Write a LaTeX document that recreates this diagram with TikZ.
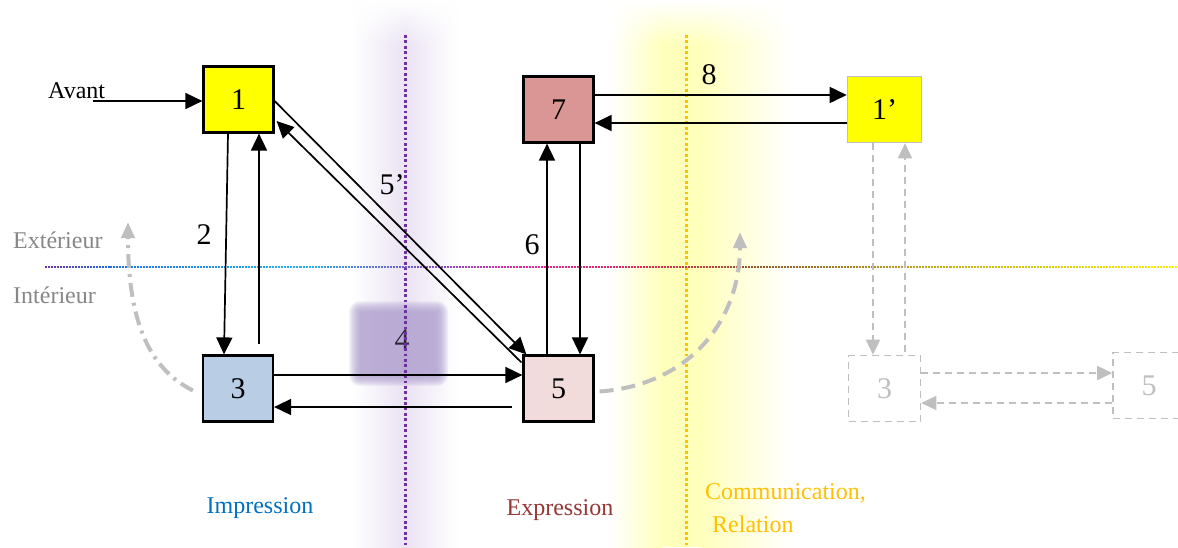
\documentclass[tikz,border=0pt]{standalone}
\usepackage{fontspec}
\setmainfont{Liberation Serif}
\usetikzlibrary{arrows.meta,fadings}

\definecolor{boxyellow}{RGB}{255,255,0}
\definecolor{boxblue}{RGB}{185,205,229}
\definecolor{boxpink}{RGB}{242,220,219}
\definecolor{boxrose}{RGB}{217,150,148}
\definecolor{lgray}{RGB}{191,191,191}
\definecolor{labgray}{RGB}{135,135,135}
\definecolor{impblue}{RGB}{0,112,192}
\definecolor{expred}{RGB}{149,55,53}
\definecolor{comorange}{RGB}{255,192,0}
\definecolor{linepurple}{RGB}{112,48,160}
\definecolor{glowP}{RGB}{234,227,243}
\definecolor{glowY}{RGB}{255,255,188}
\definecolor{sqpurple}{RGB}{172,155,205}
\definecolor{fourgray}{RGB}{45,38,55}
% colour stops of the inside/outside border line
\definecolor{hA}{RGB}{112,48,160}
\definecolor{hB}{RGB}{30,110,230}
\definecolor{hC}{RGB}{40,180,240}
\definecolor{hD}{RGB}{120,80,200}
\definecolor{hE}{RGB}{220,40,160}
\definecolor{hF}{RGB}{220,40,90}
\definecolor{hG}{RGB}{140,90,40}
\definecolor{hH}{RGB}{200,180,20}
\definecolor{hI}{RGB}{255,240,0}

\newcommand\numfont{\fontsize{30}{34}\selectfont}
\newcommand\txtfont{\fontsize{24}{28}\selectfont}

\begin{document}
\begin{tikzpicture}[x=1pt,y=-1pt,
  box/.style={draw=black, line width=2.2pt, minimum width=70pt, minimum height=66pt,
              inner sep=0pt, font=\numfont},
  gbox/.style={draw=lgray, line width=1.6pt, dash pattern=on 7pt off 5pt,
               minimum width=72pt, minimum height=66pt, inner sep=0pt,
               text=lgray, font=\numfont},
  arr/.style={line width=1.7pt, -{Triangle[length=17pt,width=16pt]}},
  garr/.style={draw=lgray, line width=1.6pt, dash pattern=on 7pt off 5pt,
               -{Triangle[length=15pt,width=14pt,fill=lgray]}},
  gcurve/.style={draw=lgray, line width=4pt,
                 -{Triangle[length=16pt,width=13pt,fill=lgray]}},
  num/.style={font=\numfont, inner sep=0pt},
  lab/.style={font=\txtfont, inner sep=0pt},
  vdots/.style={line width=3pt, dash pattern=on 2.8pt off 2.6pt}
]
\useasboundingbox[fill=white] (0,0) rectangle (1178,547);

% soft glow bands behind the two separating lines
\shade[left color=white, right color=glowP] (352,0) rectangle (405,547);
\shade[left color=glowP, right color=white] (405,0) rectangle (458,547);
\shade[left color=white, right color=glowY] (610,0) rectangle (662,547);
\fill[glowY] (662,0) rectangle (702,547);
\shade[left color=glowY, right color=white] (702,0) rectangle (790,547);
% the bands fade out towards the top edge
\fill[white, path fading=south] (340,0) rectangle (800,45);

% blurred square behind the label 4
\foreach \i in {0,...,11}
  \fill[sqpurple, opacity=0.11, rounded corners=\i pt]
    ({360-\i},{312-\i}) rectangle ({437+\i},{375+\i});
\node[num, text=fourgray] (l4) at (402,340) {4};

% vertical dotted separators
\draw[vdots, linepurple] (405,35) -- (405,547);
\draw[vdots, comorange] (686,35) -- (686,547);

% dotted inside/outside border, colour running along its length
\foreach \a/\b/\ca/\cb in {45/110/hA/hB, 110/300/hB/hC, 300/420/hC/hD,
    420/520/hD/hE, 520/640/hE/hF, 640/760/hF/hG, 760/950/hG/hH, 950/1180/hH/hI}{
  \pgfmathtruncatemacro\s{\a+3}
  \foreach \x in {\a,\s,...,\b}{
    \pgfmathtruncatemacro\p{(\x-\a)/(\b-\a)*100}
    \fill[color=\cb!\p!\ca] (\x,266) rectangle ++(2.2,2.2);
  }
}

% side labels
\node[lab, text=labgray, anchor=base west] (ext) at (13,248) {Extérieur};
\node[lab, text=labgray, anchor=base west] (int) at (13,303) {Intérieur};

% boxes
\node[box, fill=boxyellow] (n1) at (238.5,99.5) {1};
\node[box, fill=boxblue]   (n3) at (238,388.5) {3};
\node[box, fill=boxpink]   (n5) at (558.5,388.5) {5};
\node[box, fill=boxrose]   (n7) at (558.5,109.5) {7};
\node[box, fill=boxyellow, draw=lgray, line width=1.6pt, minimum width=74pt] (n1p) at (884.5,109.5) {1’};
\node[gbox] (g3) at (884.5,388.5) {3};
\node[gbox] (g5) at (1149,385.5) {5};

% entry arrow
\node[lab, anchor=base west] (avant) at (48,98) {Avant};
\coordinate (avstart) at (93,101);
\draw[arr] (avstart) -- (avstart -| n1.west);

% 1 <-> 3
\draw[arr] ([xshift=-10.5pt]n1.south) -- ([xshift=-14pt]n3.north);
\draw[arr] ([xshift=21pt,yshift=10pt]n3.north) -- ([xshift=20.5pt]n1.south);
\node[num] (l2) at (204,235) {2};

% 3 <-> 5
\draw[arr] ([yshift=13.5pt]n3.east) -- ([yshift=13.5pt]n5.west);
\draw[arr] ([xshift=-10pt,yshift=-18.5pt]n5.west) -- ([yshift=-18.5pt]n3.east);

% 1 <-> 5 diagonal pair
\draw[arr] ([yshift=-1.5pt]n1.east) -- ([xshift=4pt]n5.north west);
\draw[arr] ([xshift=-1pt,yshift=-8pt]n5.north west) -- ([xshift=2pt,yshift=-21.5pt]n1.east);
\node[num] (l5p) at (392,185) {5’};

% 5 <-> 7
\draw[arr] ([xshift=-11.5pt]n5.north) -- ([xshift=-11.5pt]n7.south);
\draw[arr] ([xshift=21.5pt]n7.south) -- ([xshift=21.5pt]n5.north);
\node[num] (l6) at (532,245) {6};

% 7 <-> 1'
\draw[arr] ([yshift=14.5pt]n7.east) -- ([yshift=14.5pt]n1p.west);
\draw[arr] ([yshift=-13.5pt]n1p.west) -- ([yshift=-13.5pt]n7.east);
\node[num] (l8) at (709,75) {8};

% faded repetition of the cycle
\draw[garr] ([xshift=-11.5pt]n1p.south) -- ([xshift=-11.5pt]g3.north);
\draw[garr] ([xshift=20.5pt,yshift=3pt]g3.north) -- ([xshift=20.5pt]n1p.south);
\draw[garr] ([yshift=15.5pt]g3.east) -- ([yshift=15.5pt]g3.east -| g5.west);
\draw[garr] ([yshift=-14.5pt]g3.east -| g5.west) -- ([yshift=-14.5pt]g3.east);

% rising curves from the inside to the outside
\coordinate (lcend) at (128,222);
\draw[gcurve, dash pattern=on 14pt off 6pt on 3pt off 6pt]
  ([xshift=-9pt,yshift=-2pt]n3.west) .. controls (148,368) and (128,320) .. (lcend);
\coordinate (rcend) at (740,232);
\draw[gcurve, dash pattern=on 14pt off 8pt]
  ([xshift=5pt,yshift=-3pt]n5.east) .. controls (690,385) and (740,320) .. (rcend);

% column titles
\node[lab, text=impblue] (timp) at (260,508) {Impression};
\node[lab, text=expred] (texp) at (560,510) {Expression};
\node[lab, text=comorange, anchor=west] (tcom) at (705,493) {Communication,};
\node[lab, text=comorange, anchor=west] (trel) at (712,524) {Relation};
\end{tikzpicture}
\end{document}
